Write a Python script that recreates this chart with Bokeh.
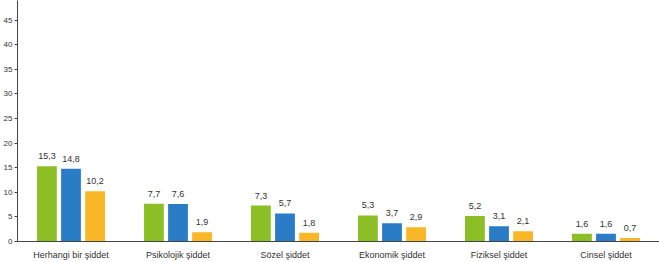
from bokeh.plotting import figure
from bokeh.models import ColumnDataSource, FixedTicker
from bokeh.transform import dodge
from bokeh.core.properties import value
from bokeh.embed import file_html
from bokeh.resources import INLINE

categories = ["Herhangi bir şiddet", "Psikolojik şiddet", "Sözel şiddet",
              "Ekonomik şiddet", "Fiziksel şiddet", "Cinsel şiddet"]
series_a = [15.3, 7.7, 7.3, 5.3, 5.2, 1.6]
series_b = [14.8, 7.6, 5.7, 3.7, 3.1, 1.6]
series_c = [10.2, 1.9, 1.8, 2.9, 2.1, 0.7]
y_ticks = [0, 5, 10, 15, 20, 25, 30, 35, 40, 45]

def fmt(v):
    return ("%.1f" % v).replace(".", ",")

src = ColumnDataSource(dict(
    cat=categories,
    a=series_a, b=series_b, c=series_c,
    la=[fmt(v) for v in series_a],
    lb=[fmt(v) for v in series_b],
    lc=[fmt(v) for v in series_c],
))

p = figure(x_range=categories, y_range=(0, 49), width=659, height=262,
           output_backend="svg", toolbar_location=None,
           min_border_left=0, min_border_right=0, min_border_top=0, min_border_bottom=0)
p.x_range.range_padding = 0

colors = ["#8CBF26", "#2A7CC7", "#F9B626"]
offs = [-0.225, 0.0, 0.225]
for col, lab, off, color in zip(["a", "b", "c"], ["la", "lb", "lc"], offs, colors):
    xd = dodge("cat", off, range=p.x_range)
    p.vbar(x=xd, top=col, width=0.185, source=src, color=color, line_color=None)
    p.text(x=xd, y=col, text=lab, source=src, text_align="center",
           text_baseline="bottom", y_offset=-7, text_font_size="9px",
           text_color="#333333", text_font=value("Liberation Sans"))

p.xgrid.grid_line_color = None
p.ygrid.grid_line_color = None
p.outline_line_color = None

p.xaxis.major_tick_line_color = None
p.xaxis.minor_tick_line_color = None
p.xaxis.axis_line_color = "#444444"
p.xaxis.major_label_text_font_size = "9px"
p.xaxis.major_label_text_color = "#333333"
p.xaxis.major_label_text_font = "Liberation Sans"
p.xaxis.major_label_standoff = 2

p.yaxis.ticker = FixedTicker(ticks=y_ticks)
p.yaxis.axis_line_color = "#444444"
p.yaxis.major_tick_line_color = "#444444"
p.yaxis.major_tick_out = 3
p.yaxis.major_tick_in = 0
p.yaxis.minor_tick_line_color = None
p.yaxis.major_label_text_font_size = "8px"
p.yaxis.major_label_text_font = "Liberation Sans"
p.yaxis.major_label_text_color = "#333333"
p.yaxis.major_label_standoff = 2

open("out.html", "w").write(file_html(p, INLINE))
